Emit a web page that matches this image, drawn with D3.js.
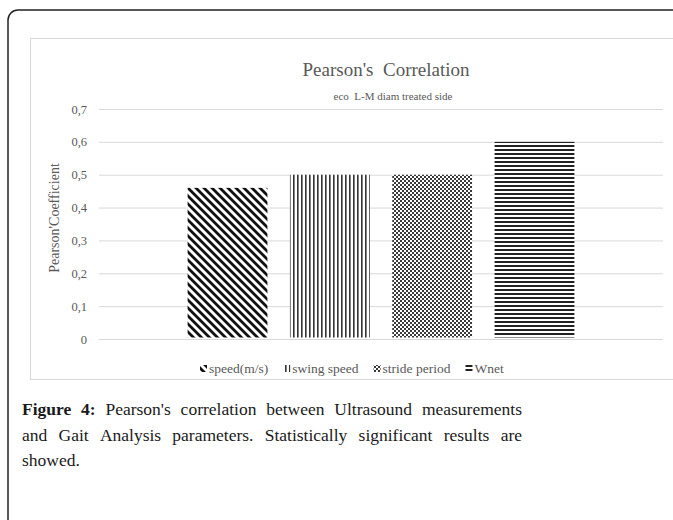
<!DOCTYPE html>
<html>
<head>
<meta charset="utf-8">
<script src="https://cdn.jsdelivr.net/npm/d3@7"></script>
<style>
  body { margin: 0; background: #fff; }
  svg { display: block; }
  svg text { font-family: "Liberation Serif", "DejaVu Serif", serif; }
</style>
</head>
<body>
<div id="chart"></div>
<script>
// ---------- data ----------
const series = ['speed(m/s)', 'swing speed', 'stride period', 'Wnet'];
const values = [0.46, 0.50, 0.50, 0.60];
const patternIds = ['pDiag', 'pVert', 'pDots', 'pHoriz'];
const yTicks = [0, 0.1, 0.2, 0.3, 0.4, 0.5, 0.6, 0.7];
const yTickLabels = ['0', '0,1', '0,2', '0,3', '0,4', '0,5', '0,6', '0,7'];
const titleText = "Pearson's  Correlation";
const subtitleText = 'eco  L-M diam treated side';
const yTitle = "Pearson'Coefficient";
const captionLines = [
  [['Figure', true], ['4:', true], ['Pearson\'s', false], ['correlation', false], ['between', false], ['Ultrasound', false], ['measurements', false]],
  [['and', false], ['Gait', false], ['Analysis', false], ['parameters.', false], ['Statistically', false], ['significant', false], ['results', false], ['are', false]],
  [['showed.', false]]
];

//==========size==========
const W = 673, H = 520;
const plot = {left: 99, right: 663, top: 109, bottom: 339};
const grey = '#595959';

const svg = d3.select('#chart').append('svg')
  .attr('width', W).attr('height', H);

//==========patterns==========
const defs = svg.append('defs');
let p = defs.append('pattern').attr('id', 'pDiag').attr('patternUnits', 'userSpaceOnUse')
  .attr('width', 8).attr('height', 8);
p.append('rect').attr('width', 8).attr('height', 8).attr('fill', '#fff');
p.append('path').attr('d', 'M-1,-1 L9,9 M-3,5 L3,11 M5,-3 L11,3')
  .attr('stroke', '#111').attr('stroke-width', 2.8);

p = defs.append('pattern').attr('id', 'pVert').attr('patternUnits', 'userSpaceOnUse')
  .attr('width', 4).attr('height', 4);
p.append('rect').attr('width', 4).attr('height', 4).attr('fill', '#fff');
p.append('rect').attr('x', 1).attr('width', 1.6).attr('height', 4).attr('fill', '#333');

p = defs.append('pattern').attr('id', 'pDots').attr('patternUnits', 'userSpaceOnUse')
  .attr('width', 4).attr('height', 4);
p.append('rect').attr('width', 4).attr('height', 4).attr('fill', '#fff');
p.append('rect').attr('width', 2).attr('height', 2).attr('fill', '#3a3a3a');
p.append('rect').attr('x', 2).attr('y', 2).attr('width', 2).attr('height', 2).attr('fill', '#3a3a3a');

p = defs.append('pattern').attr('id', 'pHoriz').attr('patternUnits', 'userSpaceOnUse')
  .attr('width', 4).attr('height', 4);
p.append('rect').attr('width', 4).attr('height', 4).attr('fill', '#fff');
p.append('rect').attr('y', 1).attr('width', 4).attr('height', 2).attr('fill', '#222');

//==========frames==========
svg.append('rect')
  .attr('x', 8).attr('y', 10).attr('width', 720).attr('height', 600)
  .attr('rx', 10)
  .attr('fill', 'none').attr('stroke', '#222').attr('stroke-width', 1.5);

svg.append('rect')
  .attr('x', 30.5).attr('y', 38.5).attr('width', 700).attr('height', 341)
  .attr('fill', 'none').attr('stroke', '#d9d9d9').attr('stroke-width', 1);

//==========scales==========
const x = d3.scaleBand().domain(series)
  .range([plot.left, plot.right])
  .paddingInner(0.22).paddingOuter(0.866);
const y = d3.scaleLinear().domain([0, 0.7]).range([plot.bottom, plot.top]);

//==========grid + y axis==========
const yAxis = svg.append('g')
  .attr('transform', 'translate(' + plot.left + ',0)')
  .call(d3.axisLeft(y).tickValues(yTicks)
    .tickSize(-(plot.right - plot.left))
    .tickPadding(12)
    .tickFormat((d, i) => yTickLabels[i]));
yAxis.select('.domain').remove();
yAxis.attr('font-family', null).attr('font-size', null);
yAxis.selectAll('.tick line').attr('stroke', '#d9d9d9').attr('stroke-width', 1);
yAxis.selectAll('.tick text')
  .attr('font-size', 12.5).attr('fill', grey);

//==========bars==========
svg.append('g').selectAll('rect')
  .data(series)
  .enter()
  .append('rect')
  .attr('x', d => x(d))
  .attr('width', x.bandwidth())
  .attr('y', (d, i) => y(values[i]))
  .attr('height', (d, i) => y(0) - y(values[i]) - 1.5)
  .attr('fill', (d, i) => 'url(#' + patternIds[i] + ')');

//==========titles==========
svg.append('text')
  .attr('x', 386).attr('y', 76)
  .attr('text-anchor', 'middle')
  .attr('font-size', 19).attr('fill', grey)
  .style('white-space', 'pre')
  .text(titleText);

svg.append('text')
  .attr('x', 393).attr('y', 100)
  .attr('text-anchor', 'middle')
  .attr('font-size', 11).attr('fill', grey)
  .style('white-space', 'pre')
  .text(subtitleText);

svg.append('text')
  .attr('transform', 'translate(59,218) rotate(-90)')
  .attr('text-anchor', 'middle')
  .attr('font-size', 14).attr('fill', grey)
  .text(yTitle);

//==========legend==========
const legend = svg.append('g');
let lx = 200;
series.forEach((s, i) => {
  legend.append('rect')
    .attr('x', lx).attr('y', 365).attr('width', 7).attr('height', 7)
    .attr('fill', 'url(#' + patternIds[i] + ')');
  const t = legend.append('text')
    .attr('x', lx + 9).attr('y', 372.5)
    .attr('font-size', 13.5).attr('fill', grey)
    .text(s);
  lx += 9 + t.node().getComputedTextLength() + 15;
});

//==========caption (justified)==========
const capLeft = 22, capRight = 522;
const capBase = [415, 440.5, 466];
captionLines.forEach((words, li) => {
  const g = svg.append('g');
  const nodes = words.map(w => g.append('text')
    .attr('y', capBase[li])
    .attr('font-size', 17.5)
    .attr('font-weight', w[1] ? 'bold' : 'normal')
    .attr('fill', '#1a1a1a')
    .text(w[0]));
  const widths = nodes.map(n => n.node().getComputedTextLength());
  const total = d3.sum(widths);
  const last = li === captionLines.length - 1;
  const gap = last ? 4.5 : (capRight - capLeft - total) / (words.length - 1);
  let cx = capLeft;
  nodes.forEach((n, i) => {
    n.attr('x', cx);
    cx += widths[i] + gap;
  });
});
</script>
</body>
</html>
